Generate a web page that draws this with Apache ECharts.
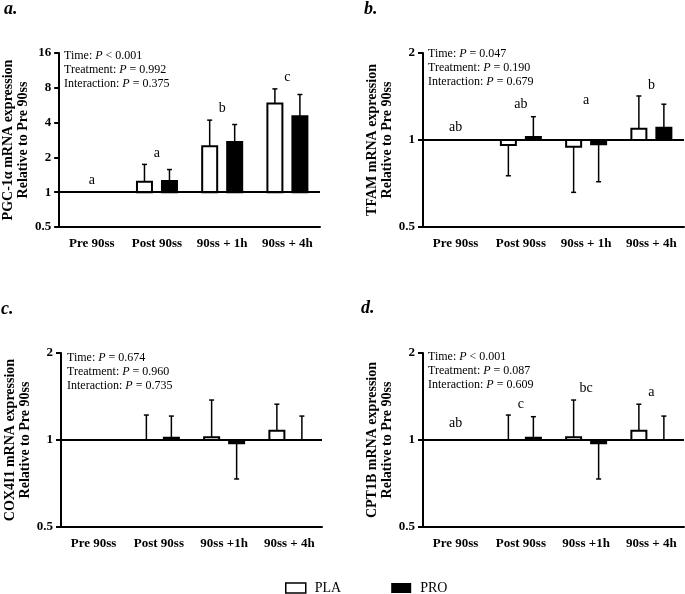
<!DOCTYPE html>
<html>
<head>
<meta charset="utf-8">
<script src="https://cdn.jsdelivr.net/npm/echarts@6/dist/echarts.min.js"></script>
<style>
  html, body { margin: 0; padding: 0; background: #fff; }
  #chart { width: 685px; height: 594px; }
</style>
</head>
<body>
<div id="chart"></div>
<script>
const FONT = '"Liberation Serif", "Times New Roman", serif'

// time points
const timepointsTop = ['Pre 90ss', 'Post 90ss', '90ss + 1h', '90ss + 4h']
const timepointsBottom = ['Pre 90ss', 'Post 90ss', '90ss +1h', '90ss + 4h']

// a. PGC-1a (fold change, mean and mean+SD end)
const pgcPLA = [1, 1.23, 2.5, 5.85]
const pgcPLAErr = [1, 1.74, 4.2, 7.83]
const pgcPRO = [1, 1.25, 2.72, 4.54]
const pgcPROErr = [1, 1.57, 3.85, 7.0]
const pgcLetters = ['a', 'a', 'b', 'c']
const pgcLetterY = [1.27, 2.18, 5.3, 9.9]
const pgcStats = ['< 0.001', '= 0.992', '= 0.375']

// b. TFAM
const tfamPLA = [1, 0.961, 0.948, 1.094]
const tfamPLAErr = [1, 0.752, 0.659, 1.42]
const tfamPRO = [1, 1.024, 0.966, 1.103]
const tfamPROErr = [1, 1.204, 0.717, 1.33]
const tfamLetters = ['ab', 'ab', 'a', 'b']
const tfamLetterY = [1.103, 1.33, 1.375, 1.55]
const tfamStats = ['= 0.047', '= 0.190', '= 0.679']

// c. COX4I1
const coxPLA = [1, 1.0, 1.022, 1.077]
const coxPLAErr = [1, 1.22, 1.375, 1.33]
const coxPRO = [1, 1.018, 0.974, 1.0]
const coxPROErr = [1, 1.21, 0.733, 1.21]
const coxLetters = []
const coxLetterY = []
const coxStats = ['= 0.674', '= 0.960', '= 0.735']

// d. CPT1B
const cptPLA = [1, 1.0, 1.022, 1.077]
const cptPLAErr = [1, 1.22, 1.375, 1.33]
const cptPRO = [1, 1.018, 0.974, 1.0]
const cptPROErr = [1, 1.204, 0.733, 1.21]
const cptLetters = ['ab', 'c', 'bc', 'a']
const cptLetterY = [1.14, 1.33, 1.51, 1.46]
const cptStats = ['< 0.001', '= 0.087', '= 0.609']

const panels = [
  { tag: 'a.', tagX: 4, tagY: 0, grid: [59, 53], max: 16, cats: timepointsTop,
    name: 'PGC-1α mRNA expression\nRelative to Pre 90ss', pla: pgcPLA, plaErr: pgcPLAErr,
    pro: pgcPRO, proErr: pgcPROErr, letters: pgcLetters, letterY: pgcLetterY,
    stats: pgcStats, statPos: [64, 49] },
  { tag: 'b.', tagX: 364, tagY: 0, grid: [423, 53], max: 2, cats: timepointsTop,
    name: 'TFAM mRNA expression\nRelative to Pre 90ss', pla: tfamPLA, plaErr: tfamPLAErr,
    pro: tfamPRO, proErr: tfamPROErr, letters: tfamLetters, letterY: tfamLetterY,
    stats: tfamStats, statPos: [428, 47] },
  { tag: 'c.', tagX: 1, tagY: 300, grid: [61, 353], max: 2, cats: timepointsBottom,
    name: 'COX4I1 mRNA expression\nRelative to Pre 90ss', pla: coxPLA, plaErr: coxPLAErr,
    pro: coxPRO, proErr: coxPROErr, letters: coxLetters, letterY: coxLetterY,
    stats: coxStats, statPos: [67, 351] },
  { tag: 'd.', tagX: 361, tagY: 299, grid: [423, 353], max: 2, cats: timepointsBottom,
    name: 'CPT1B mRNA expression\nRelative to Pre 90ss', pla: cptPLA, plaErr: cptPLAErr,
    pro: cptPRO, proErr: cptPROErr, letters: cptLetters, letterY: cptLetterY,
    stats: cptStats, statPos: [428, 350] }
]

// bar from 1 to mean, error bar from mean to end
function barRenderer(offset, filled) {
  return function (params, api) {
    const i = api.value(0)
    const mean = api.value(1)
    const end = api.value(2)
    const base = api.coord([i, 1])
    const top = api.coord([i, mean])
    const tip = api.coord([i, end])
    const x = base[0] + offset
    const children = []
    if (end !== mean) {
      children.push({
        type: 'line',
        shape: { x1: x, y1: top[1], x2: x, y2: tip[1] },
        style: { stroke: '#000', lineWidth: 1.5 }
      })
      children.push({
        type: 'line',
        shape: { x1: x - 2.5, y1: tip[1], x2: x + 2.5, y2: tip[1] },
        style: { stroke: '#000', lineWidth: 1.5 }
      })
    }
    if (mean !== 1) {
      children.push({
        type: 'rect',
        shape: { x: x - 7.5, y: Math.min(top[1], base[1]), width: 15, height: Math.abs(top[1] - base[1]) },
        style: { fill: filled ? '#000' : '#fff', stroke: '#000', lineWidth: 2 }
      })
    }
    return { type: 'group', children }
  }
}

function letterRenderer(letters) {
  return function (params, api) {
    const p = api.coord([api.value(0), api.value(1)])
    return {
      type: 'text',
      x: p[0],
      y: p[1],
      style: { text: letters[params.dataIndex], fontFamily: FONT, fontSize: 14, fill: '#000', align: 'center', verticalAlign: 'middle' }
    }
  }
}

const toRows = (means, ends) => means.map((m, i) => [i, m, ends[i]])

const grid = []
const xAxis = []
const yAxis = []
const series = []
const title = []
const graphic = []

panels.forEach((p, k) => {
  grid.push({ left: p.grid[0], top: p.grid[1], width: 261, height: 174 })
  xAxis.push({
    type: 'category', gridIndex: k, data: p.cats,
    axisLine: { onZero: false, lineStyle: { color: '#000', width: 2 } },
    axisTick: { alignWithLabel: true, length: 6, lineStyle: { color: '#000', width: 2 } },
    axisLabel: { interval: 0, margin: 10, color: '#000', fontFamily: FONT, fontWeight: 'bold', fontSize: 13 },
    splitLine: { show: false }
  })
  yAxis.push({
    type: 'log', logBase: 2, gridIndex: k, min: 0.5, max: p.max,
    name: p.name, nameLocation: 'middle', nameGap: 23, nameRotate: 90,
    nameTextStyle: { color: '#000', fontFamily: FONT, fontWeight: 'bold', fontSize: 14, lineHeight: 15 },
    axisLine: { show: true, onZero: false, lineStyle: { color: '#000', width: 2 } },
    axisTick: { show: true, length: 5, lineStyle: { color: '#000', width: 2 } },
    axisLabel: { margin: 8, color: '#000', fontFamily: FONT, fontWeight: 'bold', fontSize: 13 },
    splitLine: { show: false }
  })
  series.push({
    type: 'custom', name: 'PLA', xAxisIndex: k, yAxisIndex: k,
    renderItem: barRenderer(-12.5, false),
    data: toRows(p.pla, p.plaErr),
    itemStyle: { color: '#fff', borderColor: '#000', borderWidth: 1.5 },
    markLine: {
      silent: true, symbol: 'none', label: { show: false },
      lineStyle: { color: '#000', width: 2, type: 'solid' },
      data: [{ yAxis: 1 }]
    }
  })
  series.push({
    type: 'custom', name: 'PRO', xAxisIndex: k, yAxisIndex: k,
    renderItem: barRenderer(12.5, true),
    data: toRows(p.pro, p.proErr),
    itemStyle: { color: '#000' }
  })
  if (p.letters.length) {
    series.push({
      type: 'custom', xAxisIndex: k, yAxisIndex: k,
      renderItem: letterRenderer(p.letters),
      data: p.letterY.map((y, i) => [i, y])
    })
  }
  const labels = ['Time: ', 'Treatment: ', 'Interaction: ']
  title.push({
    left: p.statPos[0], top: p.statPos[1], padding: 0,
    text: labels.map((l, i) => '{n|' + l + '}{i|P}{n| ' + p.stats[i] + '}').join('\n'),
    textStyle: {
      fontWeight: 'normal',
      rich: {
        n: { fontFamily: FONT, fontSize: 12, lineHeight: 14, color: '#000', fontWeight: 'normal' },
        i: { fontFamily: FONT, fontSize: 12, lineHeight: 14, color: '#000', fontWeight: 'normal', fontStyle: 'italic' }
      }
    }
  })
  graphic.push({
    type: 'text', left: p.tagX, top: p.tagY,
    style: { text: p.tag, font: 'italic bold 18px ' + FONT, fill: '#000' }
  })
})

const chart = echarts.init(document.getElementById('chart'))
chart.setOption({
  animation: false,
  backgroundColor: '#fff',
  title,
  grid,
  xAxis,
  yAxis,
  series,
  graphic,
  legend: {
    left: 285, top: 581, padding: 0, icon: 'rect', itemWidth: 20, itemHeight: 10, itemGap: 50,
    textStyle: { color: '#000', fontFamily: FONT, fontSize: 14, padding: [0, 0, 0, 4] },
    data: [
      { name: 'PLA', itemStyle: { color: '#fff', borderColor: '#000', borderWidth: 1.5 } },
      { name: 'PRO', itemStyle: { color: '#000' } }
    ]
  }
})
</script>
</body>
</html>
